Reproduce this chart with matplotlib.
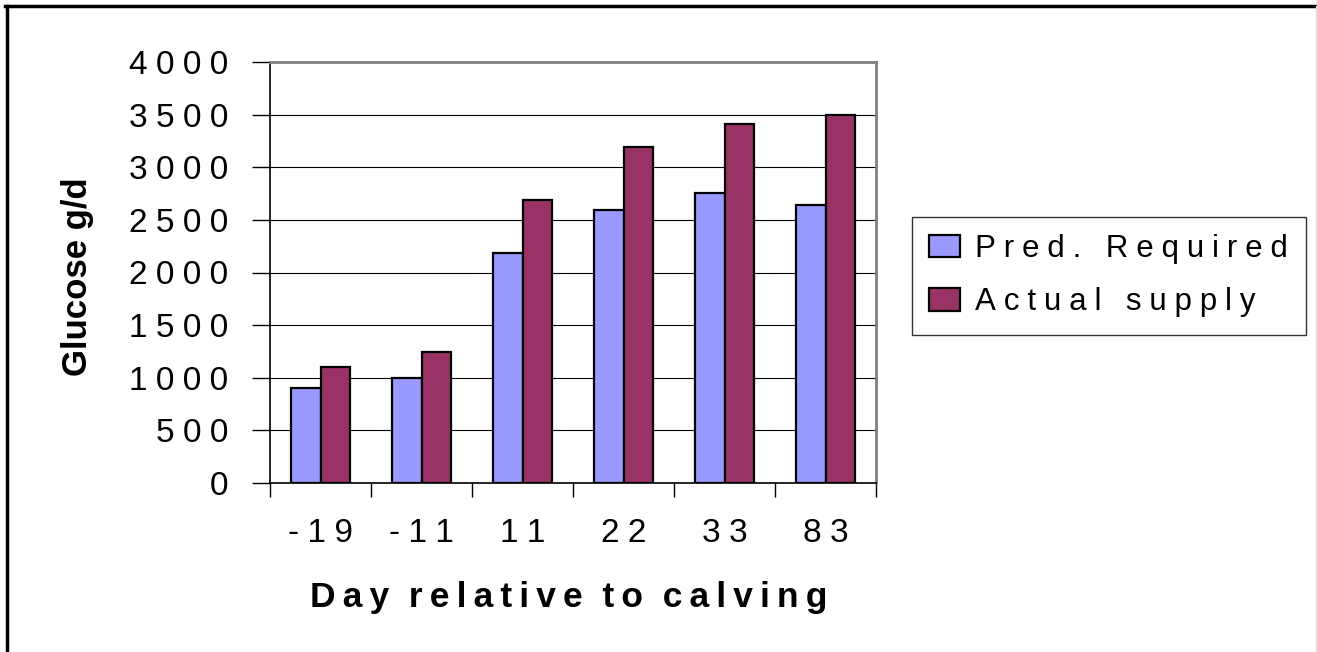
import matplotlib
matplotlib.use("Agg")
import matplotlib.pyplot as plt
import numpy as np
from matplotlib.patches import Rectangle
from matplotlib.lines import Line2D

categories = ["-19", "-11", "11", "22", "33", "83"]
pred_required = [905, 1000, 2190, 2590, 2760, 2640]
actual_supply = [1100, 1240, 2690, 3190, 3410, 3500]
series_names = ["Pred. Required", "Actual supply"]
y_ticks = [0, 500, 1000, 1500, 2000, 2500, 3000, 3500, 4000]
x_title = "Day relative to calving"
y_title = "Glucose g/d"

FAM = ["Liberation Sans", "DejaVu Sans"]
plt.rcParams["font.family"] = FAM
SP_WIDE = "\u2005"
SP_THIN = "\u2009"


def spaced(s, sep, skip_around_space=False):
    out = []
    for i, ch in enumerate(s):
        out.append(ch)
        if i < len(s) - 1:
            if skip_around_space and (ch == " " or s[i + 1] == " "):
                continue
            out.append(sep)
    return "".join(out)


W, H = 1317, 652
fig = plt.figure(figsize=(W / 100, H / 100), dpi=100)
ax = fig.add_axes([270 / W, 1 - 483 / H, (876 - 270) / W, (483 - 62) / H])

x = np.arange(len(categories))
bw = 0.29
ax.bar(x - bw / 2, pred_required, bw, color="#9999FF", edgecolor="black", linewidth=1.6, zorder=3)
ax.bar(x + bw / 2, actual_supply, bw, color="#993366", edgecolor="black", linewidth=1.6, zorder=3)

ax.set_xlim(-0.5, len(categories) - 0.5)
ax.set_ylim(0, 4000)
ax.set_yticks(y_ticks)
ax.set_yticklabels([spaced(str(v), SP_WIDE) for v in y_ticks])
ax.yaxis.grid(True, color="black", linewidth=0.8, zorder=0)
ax.set_axisbelow(True)

# x ticks at boundaries, labels at centers
ax.set_xticks(np.arange(len(categories) + 1) - 0.5)
ax.set_xticklabels([])
ax.set_xticks(x, minor=True)
ax.set_xticklabels([spaced(c, SP_WIDE) for c in categories], minor=True)
ax.tick_params(axis="x", which="minor", length=0, pad=25, labelsize=24)
ax.tick_params(axis="x", which="major", length=10, width=1, direction="out")
ax.tick_params(axis="y", length=13, width=1, direction="out", pad=17, labelsize=24)

for s in ["top", "right"]:
    ax.spines[s].set_color("#808080")
    ax.spines[s].set_linewidth(2)
ax.spines["left"].set_linewidth(1.2)
ax.spines["left"].set_color("black")
ax.spines["bottom"].set_linewidth(1.2)

fig.text(569 / W, 1 - 597 / H, spaced(x_title, SP_THIN, skip_around_space=True).replace(" ", "  "),
         ha="center", va="center", fontsize=25.5, fontweight="bold")
fig.text(77 / W, 1 - 277 / H, y_title, ha="center", va="center", rotation=90,
         fontsize=25, fontweight="bold")

handles = [Rectangle((0, 0), 1, 1, facecolor="#9999FF", edgecolor="black", linewidth=1.6),
           Rectangle((0, 0), 1, 1, facecolor="#993366", edgecolor="black", linewidth=1.6)]
leg = fig.legend(handles, [spaced(n, SP_WIDE) for n in series_names],
                 loc="upper left", bbox_to_anchor=(912 / W, 1 - 217 / H), borderaxespad=0,
                 fontsize=22.5, frameon=True, fancybox=False, edgecolor="black",
                 handlelength=1.0, handleheight=0.72, handletextpad=0.48,
                 labelspacing=0.74, borderpad=0.55)
leg.get_frame().set_linewidth(1.0)

# figure border (left/top black, right light gray)
fig.add_artist(Line2D([6.5 / W, 6.5 / W], [0, 1 - 6 / H], color="black", linewidth=2.5))
fig.add_artist(Line2D([5 / W, 1], [1 - 6 / H, 1 - 6 / H], color="black", linewidth=2.5))
fig.add_artist(Line2D([1 - 1.5 / W, 1 - 1.5 / W], [0, 1 - 6 / H], color="#e0e0e0", linewidth=1))

fig.savefig("out.png", dpi=100)
